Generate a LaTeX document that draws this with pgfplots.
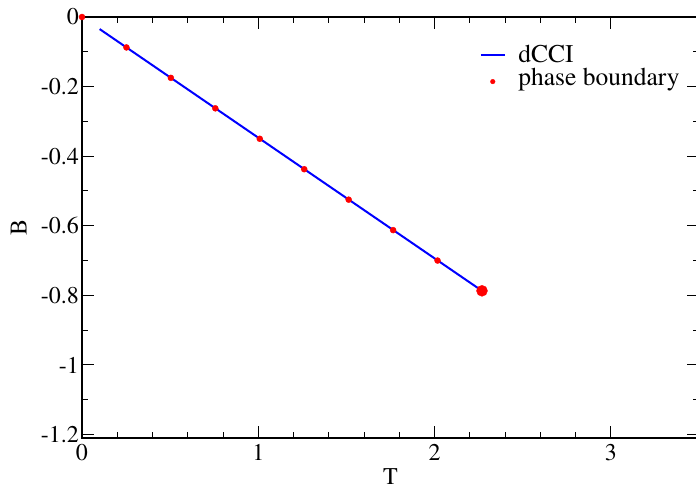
\documentclass[border=0pt]{standalone}
\usepackage{fontspec}
\setmainfont{texgyretermes}[Extension=.otf, UprightFont=*-regular, BoldFont=*-bold, ItalicFont=*-italic]
\usepackage{pgfplots}
\pgfplotsset{compat=1.18}

\begin{document}
\fontsize{24}{28}\selectfont
\begin{tikzpicture}
\begin{axis}[
  name=ax,
  scale only axis,
  width=617pt, height=421pt,
  xmin=0, xmax=3.5,
  ymin=-1.21, ymax=0,
  xtick={0,1,2,3},
  ytick={0,-0.2,-0.4,-0.6,-0.8,-1,-1.2},
  minor x tick num=4,
  minor y tick num=1,
  tick align=inside,
  major tick length=12pt,
  minor tick length=6pt,
  every tick/.style={black, line width=1pt},
  axis line style={line width=1.3pt},
  /pgf/number format/assume math mode=true,
  ticklabel style={font=\fontsize{24}{28}\selectfont},
  xticklabel style={yshift=2pt},
  yticklabel style={xshift=5pt},
  xlabel={T}, ylabel={B},
  label style={font=\fontsize{24}{28}\selectfont},
  xlabel style={yshift=8pt},
  ylabel style={yshift=-2pt},
  clip=false,
  legend style={draw=none, fill=none, at={(rel axis cs:0.645,0.935)}, anchor=north west,
    inner sep=0pt, row sep=0pt, column sep=12pt,
    nodes={inner sep=1pt, font=\fontsize{25.5}{30}\selectfont}},
  legend cell align=left,
]
\addlegendimage{legend image code/.code={\path[draw=none, fill=none] (0pt,-6pt) -- (0pt,6pt);
  \draw[color=blue, line width=1.2pt] (0pt,1pt) -- (24pt,1pt);}}
\addlegendentry{dCCI}
\addlegendimage{legend image code/.code={\path[draw=none, fill=none] (0pt,-6pt) -- (0pt,6pt);
  \fill[color=red] (12pt,-2.5pt) circle (2.3pt);}}
\addlegendentry{phase boundary}

\addplot[blue, line width=2pt, forget plot] coordinates {
  (0.1, -0.0347)
  (2.269, -0.787)
};
\addplot[only marks, mark=*, mark size=3pt, color=red, forget plot] table {
0      0
0.2521 -0.0875
0.5042 -0.175
0.7563 -0.2625
1.0084 -0.350
1.2606 -0.4375
1.5127 -0.525
1.7648 -0.6125
2.0169 -0.700
};
\addplot[only marks, mark=*, mark size=5.5pt, color=red, forget plot] coordinates {
  (2.269, -0.787)
};
\end{axis}
\pgfresetboundingbox
\path[use as bounding box] ([shift={(-82pt,-51pt)}]ax.south west) rectangle ([shift={(614pt,17pt)}]ax.north west);
\end{tikzpicture}
\end{document}
